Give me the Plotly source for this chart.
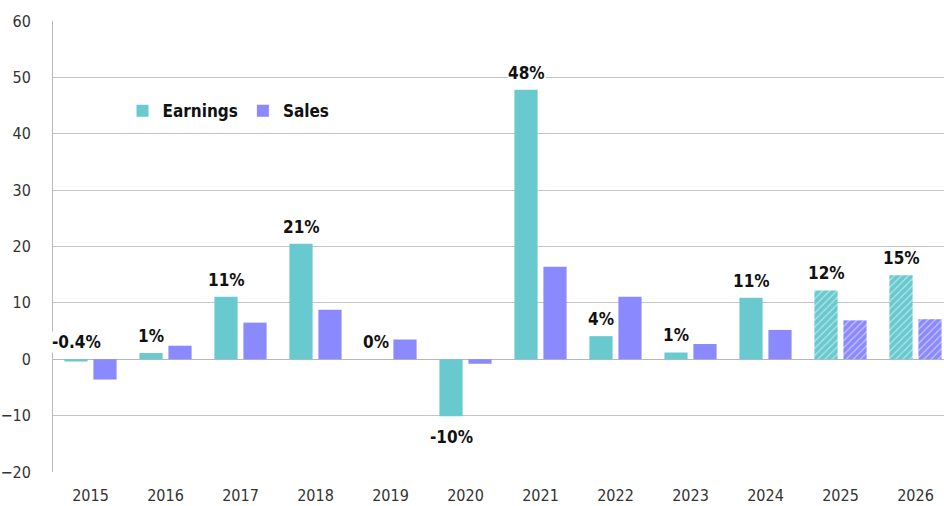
import plotly.graph_objects as go

years = ["2015", "2016", "2017", "2018", "2019", "2020", "2021", "2022", "2023", "2024", "2025", "2026"]
earnings = [-0.4, 1.1, 11.1, 20.5, 0.0, -10.1, 47.8, 4.1, 1.2, 10.9, 12.2, 14.9]
sales = [-3.6, 2.4, 6.5, 8.8, 3.5, -0.8, 16.4, 11.1, 2.7, 5.2, 6.9, 7.1]
earn_labels = ["-0.4%", "1%", "11%", "21%", "0%", "-10%", "48%", "4%", "1%", "11%", "12%", "15%"]
estimate = [False] * 10 + [True, True]

EARN_C = "#68c9cf"
SALES_C = "#8a89fe"
FONT = "Liberation Sans Narrow, DejaVu Sans Condensed, Arial Narrow, sans-serif"

pat = ["/" if e else "" for e in estimate]

fig = go.Figure()
fig.add_trace(go.Bar(
    x=years, y=earnings, name="Earnings",
    marker=dict(color=EARN_C, line=dict(width=0),
                pattern=dict(shape=pat, fgcolor="white", fillmode="overlay", size=5, solidity=0.25)),
))
fig.add_trace(go.Bar(
    x=years, y=sales, name="Sales",
    marker=dict(color=SALES_C, line=dict(width=0),
                pattern=dict(shape=pat, fgcolor="white", fillmode="overlay", size=5, solidity=0.25)),
))

for i, (yr, v, lab) in enumerate(zip(years, earnings, earn_labels)):
    if v > -1:
        yv, anchor, shift = max(v, 0), "bottom", 6
    else:
        yv, anchor, shift = v, "top", -10
    fig.add_annotation(
        x=i, y=yv, text=lab, showarrow=False, xshift=-14.5, yshift=shift,
        yanchor=anchor, xanchor="center",
        font=dict(family=FONT, size=17, color="#111111", weight="bold"),
        bgcolor="white", borderpad=0,
    )

fig.update_layout(
    width=944, height=506,
    margin=dict(l=53, r=0, t=21, b=34),
    plot_bgcolor="white", paper_bgcolor="white",
    barmode="group", bargap=0.227, bargroupgap=0.2,
    font=dict(family=FONT, size=16, color="#333333"),
    showlegend=True,
    legend=dict(
        orientation="h", x=0.078, y=0.80, xanchor="left", yanchor="middle",
        font=dict(family=FONT, size=17, color="#111111", weight="bold"),
        bgcolor="rgba(0,0,0,0)", itemwidth=30, traceorder="normal",
    ),
    xaxis=dict(
        type="category", showgrid=False, showline=False, ticks="",
        range=[-0.5, 11.38],
        tickfont=dict(family=FONT, size=16, color="#333333"),
        ticklabelstandoff=12,
    ),
    yaxis=dict(
        range=[-20, 60], dtick=10, showgrid=True, gridcolor="#c4c4c4", gridwidth=1,
        zeroline=True, zerolinecolor="#b8b8b8", zerolinewidth=1,
        showline=True, linecolor="#b8b8b8", linewidth=1,
        tickfont=dict(family=FONT, size=16, color="#333333"),
        ticks="", ticklabelstandoff=18,
    ),
)

fig.write_html("out.html", post_script="document.body.style.margin='0';",
               config={"displayModeBar": False})
